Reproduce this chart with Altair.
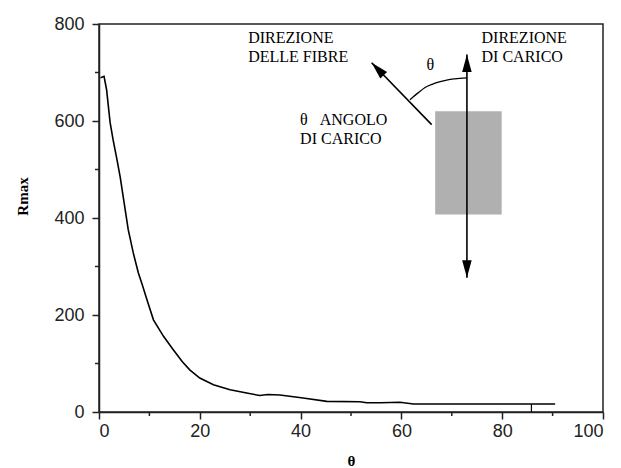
import altair as alt
import pandas as pd

# Curve values
theta = [0.3, 1.0, 1.5, 2.2, 2.8, 3.5, 4.2, 5.2, 5.8, 6.8, 7.8, 8.6, 9.5, 10.8,
         12.8, 14.7, 16.5, 18.0, 20.0, 22.7, 26.0, 29.3, 31.9, 33.5, 35.9, 40.5,
         45.2, 51.8, 53.1, 55.8, 59.7, 62.4, 90.5]
rmax = [689, 692, 665, 597, 561, 524, 485, 417, 376, 328, 287, 262, 232, 190,
        156, 129, 104, 87, 70, 56, 46, 39, 34, 36, 35, 29,
        22, 21, 19, 19, 20, 16.5, 16.5]

# small vertical segment near the end of the curve
spike_theta = [85.8]
spike_r0 = [0]
spike_r1 = [16.5]

# Diagram (inset) in data units
rect_x = [66.7]
rect_x2 = [79.9]
rect_y = [407]
rect_y2 = [620]

load_x = [73.0]
load_r0 = [277]
load_r1 = [737]

fib_x = [66.0, 54.1]
fib_r = [592.5, 720]

arc_x = [61.7, 63.3, 64.7, 66.2, 67.7, 69.2, 70.6, 73.0]
arc_r = [644, 658, 669, 676, 681, 685, 687, 689]

head_x = [73.0, 73.0, 54.1]
head_r = [737, 277, 720]
head_ang = [0, 180, 316]

txt_labels = ["DIREZIONE", "DELLE FIBRE", "DIREZIONE", "DI CARICO", "θ",
              "θ\u00a0\u00a0\u00a0ANGOLO", "DI CARICO"]
txt_x = [29.6, 29.6, 75.9, 75.9, 65.0, 39.9, 39.9]
txt_r = [771, 732, 771, 732, 716, 603, 562]

x_major = list(range(0, 101, 20))
y_major = list(range(0, 801, 200))
x_minor = list(range(10, 100, 20))
y_minor = list(range(100, 800, 200))

curve = pd.DataFrame({"theta": theta, "rmax": rmax})
spike = pd.DataFrame({"theta": spike_theta, "r0": spike_r0, "r1": spike_r1})
rect_df = pd.DataFrame({"x": rect_x, "x2": rect_x2, "y": rect_y, "y2": rect_y2})
load_df = pd.DataFrame({"x": load_x, "r0": load_r0, "r1": load_r1})
fib_df = pd.DataFrame({"x": fib_x, "r": fib_r, "o": [0, 1]})
arc_df = pd.DataFrame({"x": arc_x, "r": arc_r, "o": list(range(len(arc_x)))})
head_df = pd.DataFrame({"x": head_x, "r": head_r, "ang": head_ang})
txt_df = pd.DataFrame({"label": txt_labels, "x": txt_x, "r": txt_r})
xmin_df = pd.DataFrame({"v": x_minor})
ymin_df = pd.DataFrame({"v": y_minor})

xscale = alt.Scale(domain=[0, 100], nice=False, zero=False)
yscale = alt.Scale(domain=[0, 800], nice=False, zero=False)

x_axis = alt.Axis(
    values=x_major,
    tickSize=7,
    title="θ",
    titleFont="Liberation Serif",
    titleFontWeight="bold",
    titleFontSize=15,
    titleX=252,
    titleY=48,
    titleAlign="center",
    titleBaseline="middle",
    labelPadding=3,
)
y_axis = alt.Axis(
    values=y_major,
    tickSize=7,
    title="Rmax",
    titleFont="Liberation Serif",
    titleFontWeight="bold",
    titleFontSize=15,
    titleAngle=270,
    titleX=-77,
    titleY=172,
    titleAlign="center",
    titleBaseline="middle",
    labelPadding=8,
)

base_line = alt.Chart(curve).mark_line(color="black", strokeWidth=1.6).encode(
    x=alt.X("theta:Q", scale=xscale, axis=x_axis),
    y=alt.Y("rmax:Q", scale=yscale, axis=y_axis),
)

# minor ticks (positions from the scales, outward from the axis lines)
xminor_l = alt.Chart(xmin_df).mark_rule(color="#222", strokeWidth=1.5).encode(
    x=alt.X("v:Q", scale=xscale),
    y=alt.value(388),
    y2=alt.value(392),
)
yminor_l = alt.Chart(ymin_df).mark_rule(color="#222", strokeWidth=1.5).encode(
    y=alt.Y("v:Q", scale=yscale),
    x=alt.value(-4),
    x2=alt.value(0),
)

spike_l = alt.Chart(spike).mark_rule(color="black", strokeWidth=1.2).encode(
    x=alt.X("theta:Q", scale=xscale),
    y=alt.Y("r0:Q", scale=yscale),
    y2="r1:Q",
)

rect_l = alt.Chart(rect_df).mark_rect(color="#b0b0b0").encode(
    x=alt.X("x:Q", scale=xscale),
    x2="x2:Q",
    y=alt.Y("y:Q", scale=yscale),
    y2="y2:Q",
)

load_l = alt.Chart(load_df).mark_rule(color="black", strokeWidth=1.6).encode(
    x=alt.X("x:Q", scale=xscale),
    y=alt.Y("r0:Q", scale=yscale),
    y2="r1:Q",
)

fib_l = alt.Chart(fib_df).mark_line(color="black", strokeWidth=1.6).encode(
    x=alt.X("x:Q", scale=xscale),
    y=alt.Y("r:Q", scale=yscale),
    order="o:Q",
)

arc_l = alt.Chart(arc_df).mark_line(color="black", strokeWidth=1.3,
                                     interpolate="monotone").encode(
    x=alt.X("x:Q", scale=xscale),
    y=alt.Y("r:Q", scale=yscale),
    order="o:Q",
)

heads = alt.Chart(head_df).mark_point(
    shape="M0,0 L0.55,2 L-0.55,2 Z", filled=True, size=300, color="black", opacity=1
).encode(
    x=alt.X("x:Q", scale=xscale),
    y=alt.Y("r:Q", scale=yscale),
    angle=alt.Angle("ang:Q", scale=None),
)

texts = alt.Chart(txt_df).mark_text(
    font="Liberation Serif", fontSize=16, align="left", baseline="middle", color="black"
).encode(
    x=alt.X("x:Q", scale=xscale),
    y=alt.Y("r:Q", scale=yscale),
    text="label:N",
)

chart = alt.layer(
    rect_l, base_line, xminor_l, yminor_l, spike_l, load_l, fib_l, arc_l, heads, texts
).properties(
    width=504,
    height=388,
    autosize=alt.AutoSizeParams(type="none"),
    padding={"left": 99, "top": 24, "right": 18, "bottom": 56},
    background="white",
).configure_view(
    stroke="#222", strokeWidth=1.5
).configure_axis(
    domainColor="#222",
    domainWidth=1.5,
    tickColor="#222",
    tickWidth=1.5,
    labelFont="Liberation Sans",
    labelFontSize=18,
    labelColor="#222",
    grid=False,
)

chart.save("out.html", embed_options={"renderer": "svg", "actions": False})
